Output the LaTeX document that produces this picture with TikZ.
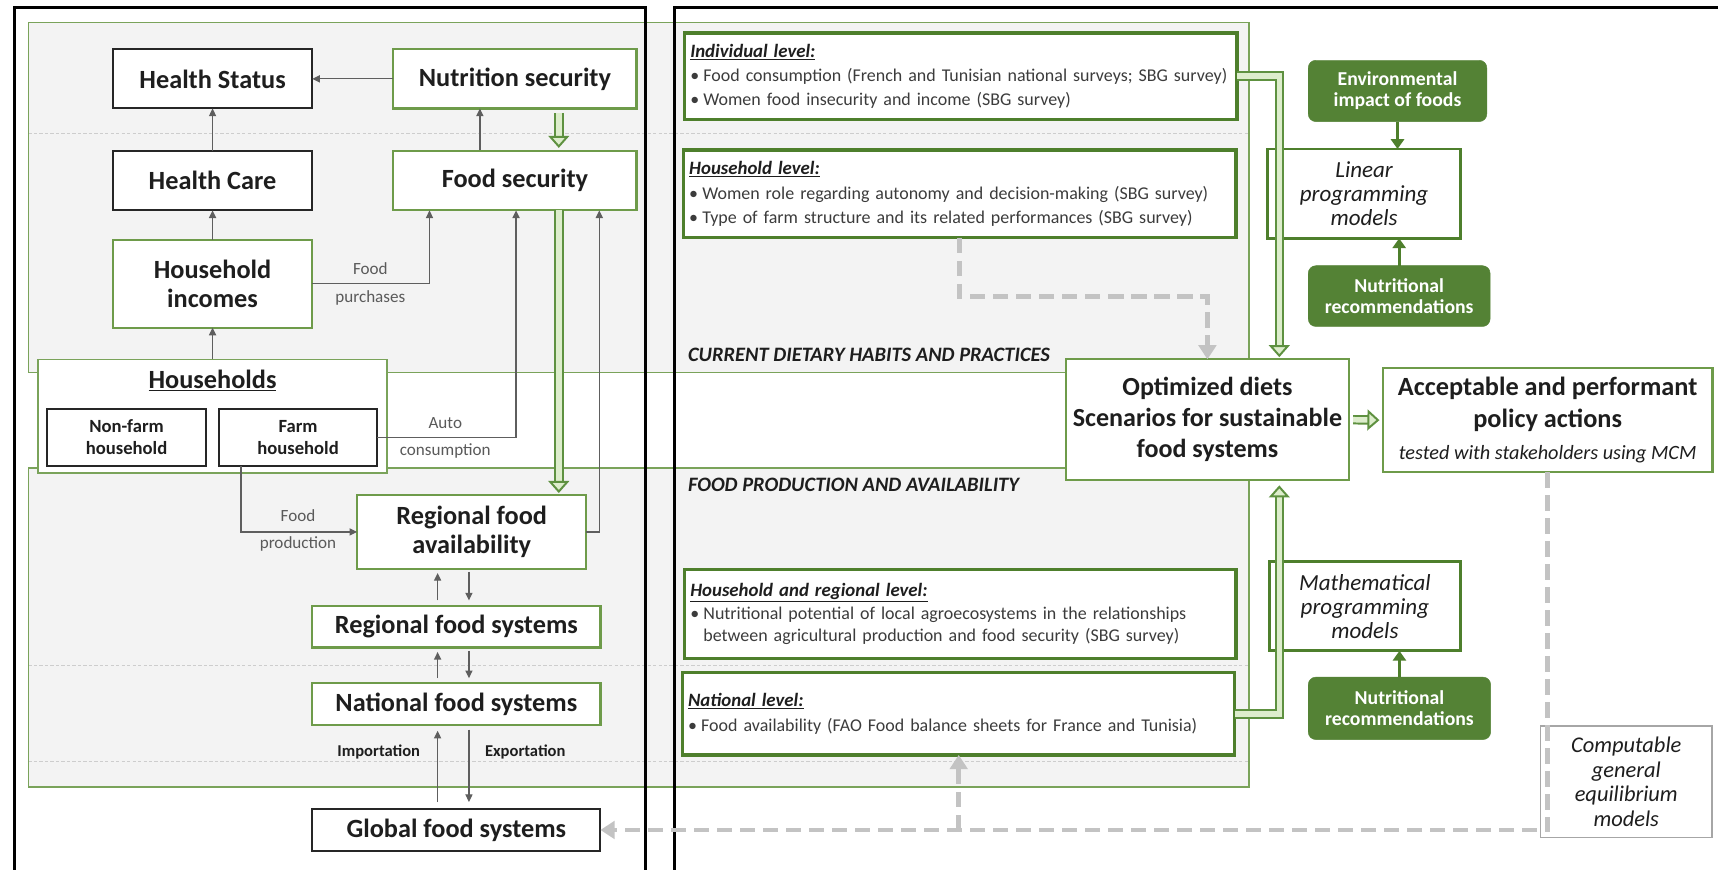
\documentclass[tikz,border=0pt]{standalone}
\usepackage{fontspec}
\setmainfont{Carlito}
\usetikzlibrary{arrows.meta,calc}
\definecolor{txt}{HTML}{1E1E1E}
\definecolor{gtxt}{HTML}{3C3C3C}
\definecolor{ltxt}{HTML}{5A5A5A}
\definecolor{pnl}{HTML}{F3F3F3}
\definecolor{pgrn}{HTML}{7AA35A}
\definecolor{bgrn}{HTML}{4E7F2C}
\definecolor{mgrn}{HTML}{6E9B4A}
\definecolor{agrn}{HTML}{5E9140}
\definecolor{lgrn}{HTML}{DDEDCC}
\definecolor{dgrn}{HTML}{548235}
\definecolor{blk}{HTML}{262626}
\definecolor{dgry}{HTML}{C3C3C3}
\definecolor{cgry}{HTML}{A6A6A6}
\definecolor{conn}{HTML}{5E5E5E}
\definecolor{thin}{HTML}{CDCDCD}
\newcommand{\fsz}[2]{\fontsize{#1}{#2}\selectfont}
\newcommand{\bul}{\makebox[12pt][l]{•}}
\hyphenpenalty=10000
\exhyphenpenalty=10000
\begin{document}
\begin{tikzpicture}[x=1pt,y=-1pt,
  base/.style={inner sep=0pt,outer sep=0pt,align=center,text=txt},
  blkbox/.style={base,draw=blk,line width=1.8pt,fill=white},
  grnbox/.style={base,draw=mgrn,line width=2pt,fill=white},
  lvlbox/.style={base,draw=bgrn,line width=3pt,fill=white,align=left,text=gtxt,font=\fsz{16.4}{22}},
  darkbox/.style={base,fill=dgrn,draw=dgrn,rounded corners=7pt,text=white,font=\bfseries\fsz{18}{19.5}},
  modbox/.style={base,draw=bgrn,line width=2.5pt,fill=white,font=\itshape\fsz{21}{22}},
  big/.style={font=\bfseries\fsz{24}{26}},
  mid/.style={font=\bfseries\fsz{17}{20}},
  lbl/.style={base,font=\fsz{15.6}{16},text=ltxt},
  blbl/.style={base,font=\bfseries\fsz{15.1}{16},text=txt},
  ptitle/.style={base,font=\bfseries\itshape\fsz{18.7}{20},anchor=west},
  conn/.style={draw=conn,line width=1.1pt,-{Triangle[length=7pt,width=6.5pt]}},
  gthin/.style={draw=bgrn,line width=2.6pt,-{Triangle[length=9pt,width=12pt]}},
  gdbl/.style={draw=agrn,line width=1.8pt,double=lgrn,double distance=5pt,
     -{Triangle[open,width=19pt,length=11pt,line width=1.8pt,fill=lgrn]}},
  gdash/.style={draw=dgry,line width=4.5pt,dash pattern=on 14pt off 7pt,
     -{Triangle[width=16pt,length=13pt]}},
  sepline/.style={draw=thin,line width=0.8pt,dash pattern=on 3pt off 2pt}
]
\useasboundingbox (0,0) rectangle (1568,794);
\fill[white] (0,0) rectangle (1568,794);
% panels
\fill[pnl] (26,20.7) rectangle (1140,340);
\fill[pnl] (26,427) rectangle (1140,718);
\draw[sepline] (26,121.6) -- (1140,121.6);
\draw[sepline] (26,607.4) -- (1140,607.4);
\draw[sepline] (26,695) -- (1140,695);
\draw[pgrn,line width=1.5pt] (26,20.7) rectangle (1140,340);
\draw[pgrn,line width=1.5pt] (26,427) rectangle (1140,718);
% black frames
\draw[black,line width=3pt] (13.4,800) -- (13.4,6.7) -- (589,6.7) -- (589,800);
\draw[black,line width=3pt] (615.7,800) -- (615.7,6.7) -- (1580,6.7);
% panel titles
\node[ptitle] (t1) at (628,324) {CURRENT DIETARY HABITS AND PRACTICES};
\node[ptitle] (t2) at (628,442.6) {FOOD PRODUCTION AND AVAILABILITY};
% column coordinates
\coordinate (cA) at (399.4,0);
\coordinate (cB) at (428,0);
\coordinate (cG) at (510,0);
\coordinate (cN) at (438,0);
\coordinate (cP) at (392,0);
\coordinate (cU) at (471,0);
\coordinate (cR) at (547,0);
\coordinate (cF) at (220,0);
\coordinate (cX) at (1167.6,0);
% left column boxes
\node[blkbox,big,minimum width=182pt,minimum height=54pt] (hs) at (194,72) {Health Status};
\node[grnbox,big,minimum width=222pt,minimum height=54pt] (ns) at (470,72) {Nutrition security};
\node[blkbox,big,minimum width=182pt,minimum height=54pt] (hc) at (194,165) {Health Care};
\node[grnbox,big,minimum width=222pt,minimum height=54pt] (fs) at (470,165) {Food security};
\node[grnbox,big,minimum width=182pt,minimum height=80pt] (hi) at (194,259) {Household\\incomes};
\node[base,draw=pgrn,line width=1.6pt,fill=white,minimum width=318pt,minimum height=104pt] (hh) at (194,380) {};
\node[base,big] (hht) at (194,347) {\underline{Households}};
\node[blkbox,mid,minimum width=145pt,minimum height=52pt] (nf) at (115.5,399) {Non-farm\\household};
\node[blkbox,mid,minimum width=144pt,minimum height=52pt] (fh) at (272,399) {Farm\\household};
\node[grnbox,big,minimum width=209pt,minimum height=67pt] (rfa) at (430.5,485.5) {Regional food\\availability};
\node[grnbox,big,minimum width=263pt,minimum height=38pt] (rfs) at (416.5,572) {Regional food systems};
\node[grnbox,big,minimum width=263pt,minimum height=39pt] (nfs) at (416.5,642.5) {National food systems};
\node[blkbox,big,minimum width=263pt,minimum height=39pt] (gfs) at (416.5,757.5) {Global food systems};
% right column boxes
\node[lvlbox,minimum width=504pt,minimum height=79pt,text width=494pt] (ind) at (877,69.5)
 {\textcolor{txt}{\fsz{17.2}{22}\bfseries\itshape\underline{Individual level:}}\\
  \bul Food consumption (French and Tunisian national surveys; SBG survey)\\
  \bul Women food insecurity and income (SBG survey)};
\node[lvlbox,minimum width=504pt,minimum height=80pt,text width=494pt] (hl) at (876,177)
 {\textcolor{txt}{\fsz{17.2}{22}\bfseries\itshape\underline{Household level:}}\\
  \bul Women role regarding autonomy and decision-making (SBG survey)\\
  \bul Type of farm structure and its related performances (SBG survey)};
\node[lvlbox,minimum width=503pt,minimum height=81pt,text width=493pt,font=\fsz{16.4}{20.5}] (hrl) at (876.5,560.5)
 {\textcolor{txt}{\fsz{17.2}{20.5}\bfseries\itshape\underline{Household and regional level:}}\\
  \bul Nutritional potential of local agroecosystems in the relationships\\
  \hspace*{12pt}between agricultural production and food security (SBG survey)};
\node[lvlbox,minimum width=504pt,minimum height=75pt,text width=494pt] (nl) at (875,651.5)
 {\textcolor{txt}{\fsz{17.2}{22}\bfseries\itshape\underline{National level:}}\\
  \bul Food availability (FAO Food balance sheets for France and Tunisia)};
\node[base,draw=mgrn,line width=2pt,fill=white,font=\bfseries\fsz{23.8}{28.3},minimum width=258pt,minimum height=110pt] (opt) at (1102,383)
 {Optimized diets\\Scenarios for sustainable\\food systems};
\node[base,draw=mgrn,line width=2pt,fill=white,font=\bfseries\fsz{24}{29},minimum width=301pt,minimum height=95pt] (acc) at (1412.5,383.5)
 {Acceptable and performant\\policy actions\\{\mdseries\itshape\fsz{18.5}{19}tested with stakeholders using MCM}};
\node[darkbox,minimum width=163pt,minimum height=56pt] (env) at (1275.5,83) {Environmental\\impact of foods};
\node[modbox,minimum width=176pt,minimum height=81.5pt] (lp) at (1245,176.75) {Linear\\programming\\models};
\node[darkbox,minimum width=166pt,minimum height=55.5pt] (nr1) at (1277,270.25) {Nutritional\\recommendations};
\node[modbox,minimum width=174.5pt,minimum height=81.4pt] (mp) at (1245.75,553.3) {Mathematical\\programming\\models};
\node[darkbox,minimum width=166.5pt,minimum height=57pt] (nr2) at (1277.25,646.5) {Nutritional\\recommendations};
\node[base,draw=cgry,line width=1.2pt,fill=white,font=\itshape\fsz{20.5}{22.3},minimum width=156.5pt,minimum height=102pt] (cge) at (1484.25,713.5)
 {Computable\\general\\equilibrium\\models};
% thin connectors (left)
\draw[conn] (ns.west) -- (hs.east);
\draw[conn] (hc.north) -- (hs.south);
\draw[conn] (hi.north) -- (hc.south);
\draw[conn] (hh.north) -- (hi.south);
\draw[conn,shorten <=1pt] (cN |- fs.north) -- (cN |- ns.south);
\draw[conn] (hi.east) -| (cP |- fs.south);
\draw[conn] (fh.east) -| (cU |- fs.south);
\draw[conn] (rfa.east) -| (cR |- fs.south);
\draw[conn] (cF |- fh.south) |- (rfa.west);
\draw[conn,shorten <=5pt,shorten >=4pt] (cA |- rfs.north) -- (cA |- rfa.south);
\draw[conn,shorten <=3pt,shorten >=5pt] (cB |- rfa.south) -- (cB |- rfs.north);
\draw[conn,shorten <=4pt,shorten >=4pt] (cA |- nfs.north) -- (cA |- rfs.south);
\draw[conn,shorten <=3pt,shorten >=4pt] (cB |- rfs.south) -- (cB |- nfs.north);
\draw[conn,shorten <=6pt,shorten >=5pt] (cA |- gfs.north) -- (cA |- nfs.south);
\draw[conn,shorten <=4pt,shorten >=6pt] (cB |- nfs.south) -- (cB |- gfs.north);
% connector labels
\node[lbl] (lfood) at (338,245.6) {Food};
\node[lbl] (lpur) at (338,271.5) {purchases};
\node[lbl] (lauto) at (406.4,386) {Auto};
\node[lbl] (lcons) at (406.4,412) {consumption};
\node[lbl] (lfood2) at (272,471) {Food};
\node[lbl] (lprod) at (272,496.5) {production};
\node[blbl] (limp) at (345.7,686.5) {Importation};
\node[blbl] (lexp) at (479.4,686.5) {Exportation};
% thin green connectors
\draw[gthin] (env.south) -- (env.south |- lp.north);
\draw[gthin] (nr1.north) -- (nr1.north |- lp.south);
\draw[gthin] (nr2.north) -- (nr2.north |- mp.south);
% grey dashed connectors
\draw[gdash] (hl.south) -- ++(0,53.6) -| (opt.north);
\draw[gdash] (acc.south) |- (gfs.east);
\draw[gdash] (nl.south |- gfs.east) -- (nl.south);
% green double connectors
\draw[gdbl,shorten <=4pt,shorten >=3pt] (cG |- ns.south) -- (cG |- fs.north);
\draw[gdbl,shorten >=2pt] (cG |- fs.south) -- (cG |- rfa.north);
\draw[gdbl,shorten >=2pt] (ind.east) -| (cX |- opt.north);
\draw[gdbl,shorten >=5pt] (nl.east) -| (cX |- opt.south);
\draw[gdbl,shorten <=4pt,shorten >=3pt] (opt.east) -- (acc.west);
\end{tikzpicture}
\end{document}
